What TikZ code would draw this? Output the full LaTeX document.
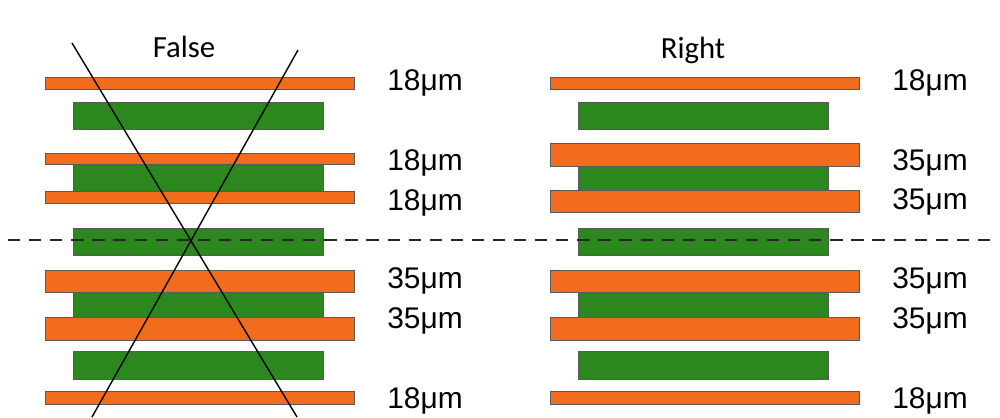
\documentclass[tikz,border=0pt]{standalone}
\usepackage{fontspec}
\setmainfont{Liberation Sans}
\newfontfamily\titlefont{Carlito}
\usetikzlibrary{positioning}

\definecolor{cuorange}{RGB}{242,108,30}
\definecolor{coregreen}{RGB}{44,136,30}

\tikzset{
  copper/.style={fill=cuorange, draw=black!65, line width=0.5pt},
  core/.style={fill=coregreen, draw=black!65, line width=0.5pt},
  thick label/.style={anchor=base west, inner sep=0pt, font=\fontsize{17}{20}\selectfont},
  title/.style={inner sep=0pt, font=\titlefont\fontsize{17.5}{20}\selectfont},
}

\begin{document}
\begin{tikzpicture}[x=0.02cm, y=-0.02cm]
  \useasboundingbox (0,0) rectangle (1000,417);
  \fill[white] (0,0) rectangle (1000,417);

  % titles
  \node[title] (false) at (184,47) {False};
  \node[title] (right) at (693,50) {Right};

  % left stack (wrong)
  \foreach \ya/\yb in {102/129, 164/191, 228/255, 292/317, 351/379}
    \draw[core] (73,\ya) rectangle (323,\yb);
  \foreach \ya/\yb in {77/89, 153/164, 191/203, 270/292, 317/340, 391/404}
    \draw[copper] (45,\ya) rectangle (354,\yb);

  % right stack (right)
  \foreach \ya/\yb in {102/129, 166/190, 228/255, 292/317, 351/379}
    \draw[core] (578,\ya) rectangle (828,\yb);
  \foreach \ya/\yb in {77/89, 143/166, 190/212, 270/292, 317/340, 391/404}
    \draw[copper] (550,\ya) rectangle (859,\yb);

  % symmetry line
  \draw[dash pattern=on 7pt off 5pt, line width=0.9pt, black!85] (8,240) -- (995,240);

  % cross over the wrong stack
  \coordinate (xa) at (72,43);
  \coordinate (xb) at (297,417);
  \coordinate (xc) at (298,50);
  \coordinate (xd) at (92,417);
  \draw[line width=0.8pt] (xa) -- (xb);
  \draw[line width=0.8pt] (xc) -- (xd);

  % thickness labels
  \node[thick label] (l1) at (387,90) {18μm};
  \node[thick label] (l2) at (387,170) {18μm};
  \node[thick label] (l3) at (387,210) {18μm};
  \node[thick label] (l4) at (387,288) {35μm};
  \node[thick label] (l5) at (387,328) {35μm};
  \node[thick label] (l6) at (387,408) {18μm};

  \node[thick label] (r1) at (892,90) {18μm};
  \node[thick label] (r2) at (892,170) {35μm};
  \node[thick label] (r3) at (892,209) {35μm};
  \node[thick label] (r4) at (892,288) {35μm};
  \node[thick label] (r5) at (892,328) {35μm};
  \node[thick label] (r6) at (892,408) {18μm};
\end{tikzpicture}
\end{document}
